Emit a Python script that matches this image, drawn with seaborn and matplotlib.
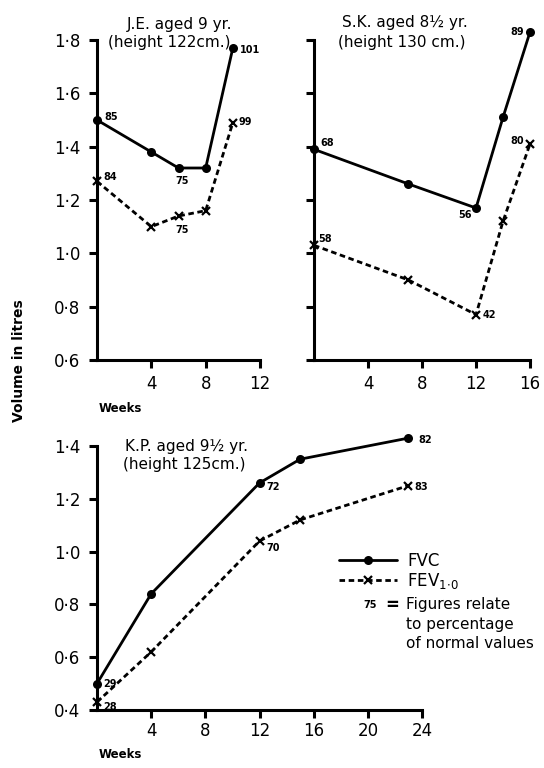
import matplotlib
matplotlib.use("Agg")
import matplotlib.pyplot as plt
import seaborn as sns

# ---- data: volume in litres against weeks, with % of normal values ----
je_weeks = [0, 4, 6, 8, 10]
je_fvc = [1.50, 1.38, 1.32, 1.32, 1.77]
je_fev = [1.27, 1.10, 1.14, 1.16, 1.49]
je_fvc_pct = [85, None, 75, None, 101]
je_fev_pct = [84, None, 75, None, 99]

sk_weeks = [0, 7, 12, 14, 16]
sk_fvc = [1.39, 1.26, 1.17, 1.51, 1.83]
sk_fev = [1.03, 0.90, 0.77, 1.12, 1.41]
sk_fvc_pct = [68, None, 56, None, 89]
sk_fev_pct = [58, None, 42, None, 80]

kp_weeks = [0, 4, 12, 15, 23]
kp_fvc = [0.50, 0.84, 1.26, 1.35, 1.43]
kp_fev = [0.43, 0.62, 1.04, 1.12, 1.25]
kp_fvc_pct = [29, None, 72, None, 82]
kp_fev_pct = [28, None, 70, None, 83]

titles = {
    "je": ("J.E. aged 9 yr.", "(height 122cm.)"),
    "sk": ("S.K. aged 8\u00bd yr.", "(height 130 cm.)"),
    "kp": ("K.P. aged 9\u00bd yr.", "(height 125cm.)"),
}

# ---- layout / style ----
sns.set_theme(style="ticks")
plt.rcParams["font.family"] = ["DejaVu Sans"]
plt.rcParams["text.color"] = "black"
plt.rcParams["axes.labelcolor"] = "black"
plt.rcParams["xtick.color"] = "black"
plt.rcParams["ytick.color"] = "black"

W, H = 544, 768
fig = plt.figure(figsize=(W / 100, H / 100), dpi=100)
fig.patch.set_facecolor("white")


def px_axes(x0, x1, ytop, ybot):
    return fig.add_axes([x0 / W, 1 - ybot / H, (x1 - x0) / W, (ybot - ytop) / H])


def dot_fmt(v):
    return f"{v:.1f}".replace(".", "\u00b7")


def style_axes(ax, xmax, ylo, yhi, ystep, xticks, ylabels=True, xpad=5):
    ax.set_xlim(0, xmax)
    ax.set_ylim(ylo, yhi)
    sns.despine(ax=ax)
    for s in ("left", "bottom"):
        ax.spines[s].set_linewidth(2.2)
        ax.spines[s].set_color("black")
    ax.set_xticks(xticks)
    ax.set_xticklabels([str(t) for t in xticks])
    yt = []
    v = ylo
    while v <= yhi + 1e-9:
        yt.append(round(v, 2))
        v += ystep
    ax.set_yticks(yt)
    ax.set_yticklabels([dot_fmt(t) for t in yt] if ylabels else [""] * len(yt))
    ax.tick_params(direction="out", length=6, width=2.2, labelsize=12,
                   color="black", labelcolor="black")
    ax.tick_params(axis="x", pad=xpad)
    ax.tick_params(axis="y", pad=6)
    ax.set_facecolor("none")
    ax.grid(False)
    ax.set_xlabel("")
    ax.set_ylabel("")


def draw_series(ax, weeks, fvc, fev, label=True):
    sns.lineplot(x=weeks, y=fvc, ax=ax, color="black", marker="o",
                 markersize=6.5, markeredgewidth=0, markeredgecolor="black",
                 linewidth=2.0, clip_on=False,
                 label="FVC" if label else None)
    sns.lineplot(x=weeks, y=fev, ax=ax, color="black", marker="x",
                 markersize=5.5, markeredgewidth=1.6, markeredgecolor="black",
                 linewidth=2.0, linestyle=(0, (2.0, 1.3)), clip_on=False,
                 label=r"FEV$_{1\!\cdot\!0}$" if label else None)


def annotate(ax, weeks, vals, pcts, offsets):
    for x, y, p, off in zip(weeks, vals, pcts, offsets):
        if p is None:
            continue
        dx, dy, ha = off
        ax.annotate(str(p), (x, y), xytext=(dx, dy), textcoords="offset pixels",
                    ha=ha, va="center", fontsize=7, fontweight="bold",
                    color="black", annotation_clip=False)


# J.E. panel
ax1 = px_axes(97, 260, 40, 360)
draw_series(ax1, je_weeks, je_fvc, je_fev, label=False)
style_axes(ax1, 12, 0.6, 1.8, 0.2, [4, 8, 12])
annotate(ax1, je_weeks, je_fvc, je_fvc_pct,
         [(7, 3, "left"), None, (4, -13, "center"), None, (7, -2, "left")])
annotate(ax1, je_weeks, je_fev, je_fev_pct,
         [(6, 4, "left"), None, (4, -14, "center"), None, (6, 1, "left")])

# S.K. panel
ax2 = px_axes(314, 530, 40, 360)
draw_series(ax2, sk_weeks, sk_fvc, sk_fev, label=False)
style_axes(ax2, 16, 0.6, 1.8, 0.2, [4, 8, 12, 16], ylabels=False)
annotate(ax2, sk_weeks, sk_fvc, sk_fvc_pct,
         [(6, 6, "left"), None, (-4, -7, "right"), None, (-6, 0, "right")])
annotate(ax2, sk_weeks, sk_fev, sk_fev_pct,
         [(4, 6, "left"), None, (7, 0, "left"), None, (-6, 3, "right")])

# K.P. panel
ax3 = px_axes(97, 422, 446, 710)
draw_series(ax3, kp_weeks, kp_fvc, kp_fev, label=True)
style_axes(ax3, 24, 0.4, 1.4, 0.2, [4, 8, 12, 16, 20, 24], xpad=3)
annotate(ax3, kp_weeks, kp_fvc, kp_fvc_pct,
         [(6, 0, "left"), None, (7, -4, "left"), None, (10, -2, "left")])
annotate(ax3, kp_weeks, kp_fev, kp_fev_pct,
         [(6, -5, "left"), None, (7, -7, "left"), None, (6, -1, "left")])

# legend
leg = ax3.legend(loc="upper left", bbox_to_anchor=(339 / W, 1 - 552 / H),
                 bbox_transform=fig.transFigure, frameon=False, fontsize=12,
                 handlelength=3.5, handletextpad=0.6, borderpad=0,
                 borderaxespad=0, labelspacing=0.05)
for t in leg.get_texts():
    t.set_color("black")

# note about percentages
fig.text(377 / W, 1 - 605 / H, "75", ha="right", va="center",
         fontsize=7, fontweight="bold")
fig.text(392 / W, 1 - 605 / H, "=", ha="center", va="center",
         fontsize=12, fontweight="bold")
for i, line in enumerate(["Figures relate", "to percentage", "of normal values"]):
    fig.text(406 / W, 1 - (605 + 19 * i) / H, line, ha="left", va="center",
             fontsize=11)

# panel titles
for (x1, x2, y1, y2), key in [((127, 108, 25, 43), "je"),
                              ((342, 338, 23, 43), "sk"),
                              ((125, 123, 446, 465), "kp")]:
    t1, t2 = titles[key]
    fig.text(x1 / W, 1 - y1 / H, t1, ha="left", va="center", fontsize=11)
    fig.text(x2 / W, 1 - y2 / H, t2, ha="left", va="center", fontsize=11)

# axis titles
fig.text(99 / W, 1 - 409 / H, "Weeks", ha="left", va="center",
         fontsize=8.5, fontweight="bold")
fig.text(99 / W, 1 - 755 / H, "Weeks", ha="left", va="center",
         fontsize=8.5, fontweight="bold")
fig.text(19 / W, 1 - 361 / H, "Volume in litres", ha="center", va="center",
         rotation=90, fontsize=10, fontweight="bold")

fig.savefig("out.png", dpi=100, facecolor="white")
